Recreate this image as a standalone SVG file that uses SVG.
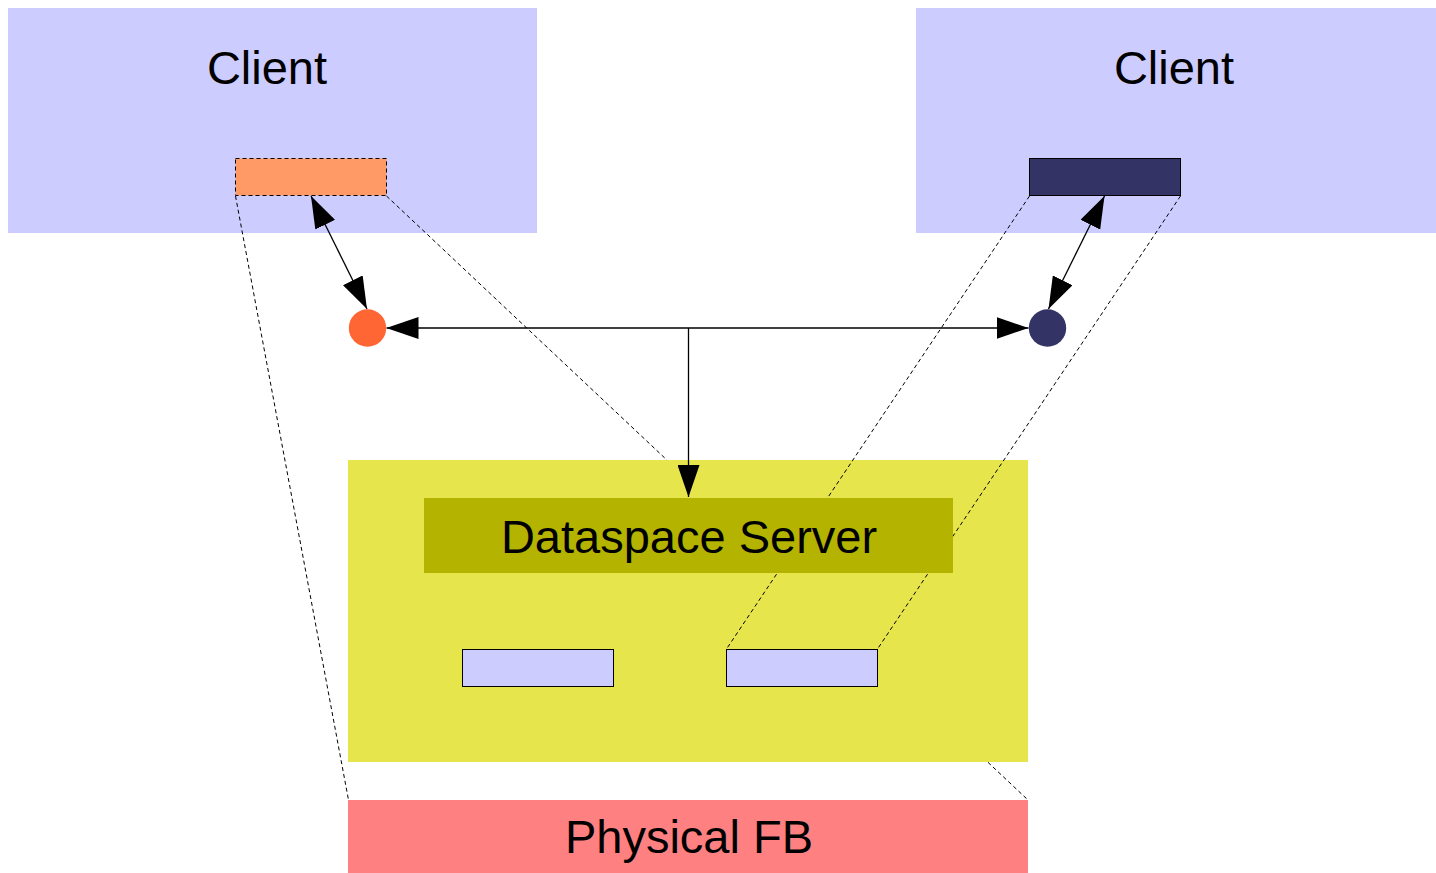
<svg xmlns="http://www.w3.org/2000/svg" width="1436" height="873" viewBox="0 0 1436 873">
<defs>
<style>
text{font-family:"Liberation Sans",Arial,sans-serif;font-size:47px;fill:#000;text-anchor:middle}
.dash{fill:none;stroke:#000;stroke-width:1;stroke-dasharray:4,3}
.conn{fill:none;stroke:#000;stroke-width:1.3}
</style>
<marker id="ah" viewBox="0 0 32 22" markerWidth="32" markerHeight="22" refX="32" refY="11" orient="auto-start-reverse" markerUnits="userSpaceOnUse">
<path d="M0,0 L32,11 L0,22 Z" fill="#000"/>
</marker>
</defs>
<rect width="1436" height="873" fill="#fff"/>
<g id="client-left">
<rect x="8" y="8" width="529" height="225" fill="#ccccff"/>
<text x="267" y="84">Client</text>
<rect x="235.5" y="158.5" width="151" height="37" fill="#ff9966" stroke="#000" stroke-width="1" stroke-dasharray="4,3"/>
</g>
<g id="client-right">
<rect x="916" y="8" width="520" height="225" fill="#ccccff"/>
<text x="1174" y="84">Client</text>
<rect x="1029.5" y="158.5" width="151" height="37" fill="#333366" stroke="#000" stroke-width="1"/>
</g>
<g id="links-under">
<line class="dash" x1="235.5" y1="196" x2="348.5" y2="800"/>
<line class="dash" x1="386.5" y1="196" x2="1028" y2="800"/>
</g>
<g id="server">
<rect x="348" y="460" width="680" height="302" fill="#e6e64c"/>
</g>
<g id="links-over">
<line class="dash" x1="1029.5" y1="196" x2="726.5" y2="649"/>
<line class="dash" x1="1180.5" y1="196" x2="877.5" y2="649"/>
</g>
<g id="dataspace-server">
<rect x="424" y="498" width="529" height="75" fill="#b3b300"/>
<text x="689" y="553">Dataspace Server</text>
</g>
<g id="buffer-1">
<rect x="462.5" y="649.5" width="151" height="37" fill="#ccccff" stroke="#000" stroke-width="1"/>
</g>
<g id="buffer-2">
<rect x="726.5" y="649.5" width="151" height="37" fill="#ccccff" stroke="#000" stroke-width="1"/>
</g>
<g id="physical-fb">
<rect x="348" y="800" width="680" height="73" fill="#ff8080"/>
<text x="689" y="853">Physical FB</text>
</g>
<g id="port-left">
<circle cx="367.5" cy="328" r="18.7" fill="#ff6633"/>
</g>
<g id="port-right">
<circle cx="1047.5" cy="328" r="18.7" fill="#333366"/>
</g>
<g id="connectors">
<line class="conn" x1="311" y1="196" x2="367" y2="309" marker-start="url(#ah)" marker-end="url(#ah)"/>
<line class="conn" x1="1104.5" y1="196" x2="1048.5" y2="309" marker-start="url(#ah)" marker-end="url(#ah)"/>
<line class="conn" x1="386.5" y1="328" x2="1028.5" y2="328" marker-start="url(#ah)" marker-end="url(#ah)"/>
<line class="conn" x1="688.5" y1="328" x2="688.5" y2="497" marker-end="url(#ah)"/>
</g>
</svg>
